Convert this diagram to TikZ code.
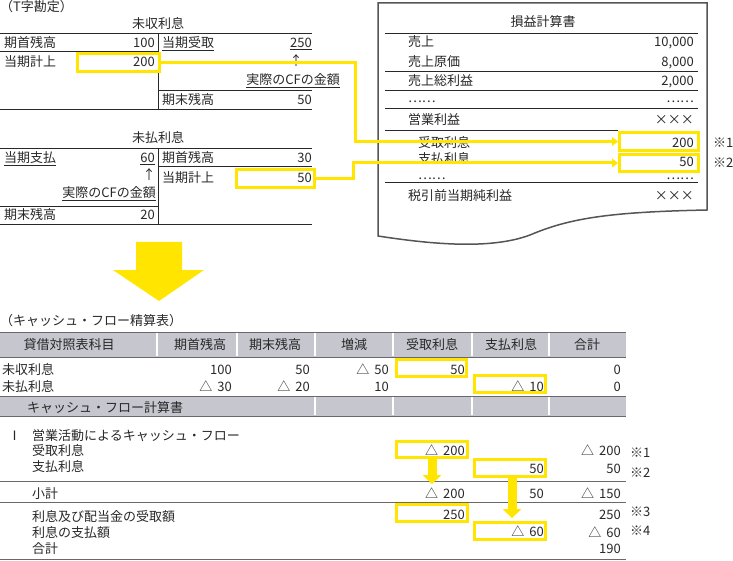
\documentclass[tikz,border=0pt]{standalone}
\usepackage{fontspec}
\setmainfont{Noto Sans CJK JP}
\usetikzlibrary{arrows.meta}
\definecolor{cfyellow}{RGB}{255,229,0}
\definecolor{bandgray}{RGB}{197,198,206}
\definecolor{rulegray}{RGB}{105,105,105}
\definecolor{plgray}{RGB}{85,85,85}
\definecolor{inkgray}{RGB}{40,40,40}
\newcommand\txtsize{\fontsize{13pt}{15pt}\selectfont}
\newcommand\xmk{\makebox[1em]{×}}
\newcommand\dl{△\hspace{5pt}}

\begin{document}
\begin{tikzpicture}[x=1pt,y=-1pt,
    every node/.style={font=\txtsize,text=inkgray,inner sep=0pt},
    lt/.style={anchor=base west},
    rt/.style={anchor=base east},
    hl/.style={draw=cfyellow,line width=3pt,minimum width=#1,minimum height=17pt},
    tline/.style={draw=inkgray,line width=0.8pt},
    rule/.style={draw=rulegray,line width=1pt},
    cutline/.style={draw=white,line width=1.2pt},
    yconn/.style={draw=cfyellow,line width=3pt,-{Triangle[length=6pt,width=9pt,line width=0pt]}},
    downarr/.style={draw=cfyellow,line width=9pt,-{Triangle[length=9pt,width=19pt,line width=0pt]}}]

  \useasboundingbox (0,0) rectangle (733,561);

  % T字勘定
  \node[lt] (tcap) at (0,12) {（T字勘定）};

  % 未収利息
  \node (ttlr) at (158,24) {未収利息};
  \draw[tline] (0,33) -- (312,33);
  \draw[tline] (158,33) -- (158,109);
  \draw[tline] (0,51) -- (158,51);
  \draw[tline] (158,90) -- (312,90);
  \draw[tline] (0,109) -- (312,109);
  \begin{scope}[every node/.append style={lt}]
    \node (r1l) at (4,48)   {期首残高};
    \node (r2l) at (4,67)   {当期計上};
    \node (r1r) at (162,48) {\underline{当期受取}};
    \node (r3r) at (162,105) {期末残高};
  \end{scope}
  \begin{scope}[every node/.append style={rt}]
    \node (r1lv) at (155,48)  {100};
    \node (r2lv) at (155,67)  {200};
    \node (r1rv) at (312,48)  {\underline{250}};
    \node (r3rv) at (312,105) {50};
    \node (rcf)  at (340,85)  {\underline{実際のCFの金額}};
  \end{scope}
  \node (rup) at (296,61) {↑};
  \node[hl=82,minimum height=18pt] (rcvbox) at (118.5,62.5) {};

  % 未払利息
  \node (ttlp) at (158,138) {未払利息};
  \draw[tline] (0,148) -- (312,148);
  \draw[tline] (158,148) -- (158,224);
  \draw[tline] (0,206) -- (158,206);
  \draw[tline] (158,166) -- (312,166);
  \draw[tline] (0,224) -- (312,224);
  \begin{scope}[every node/.append style={lt}]
    \node (p1l) at (4,163)   {\underline{当期支払}};
    \node (p3l) at (4,220)   {期末残高};
    \node (p1r) at (162,163) {期首残高};
    \node (p2r) at (162,183) {当期計上};
  \end{scope}
  \begin{scope}[every node/.append style={rt}]
    \node (p1lv) at (155,163) {\underline{60}};
    \node (p3lv) at (155,220) {20};
    \node (p1rv) at (312,163) {30};
    \node (p2rv) at (312,183) {50};
    \node (pcf)  at (156,198) {\underline{実際のCFの金額}};
  \end{scope}
  \node (pup) at (149,175) {↑};
  \node[hl=78,minimum height=18pt] (paybox) at (275.5,178.5) {};

  % 損益計算書
  \draw[draw=plgray,line width=1.5pt,fill=white] (378,3) -- (707,3) -- (707,210)
    .. controls (610,212) and (570,218) .. (530,235)
    .. controls (490,250) and (430,244) .. (378,236) -- cycle;
  \node (plttl) at (543,22) {損益計算書};
  \draw[tline] (385,33) -- (698,33);
  \draw[tline] (385,71) -- (698,71);
  \draw[tline] (385,90) -- (698,90);
  \draw[tline] (385,108) -- (698,108);
  \draw[tline] (385,130) -- (618,130);
  \draw[tline] (385,182) -- (698,182);
  \begin{scope}[every node/.append style={lt}]
    \node (pl1) at (408,47)  {売上};
    \node (pl2) at (408,67)  {売上原価};
    \node (pl3) at (408,86)  {売上総利益};
    \node (pl4) at (408,103) {……};
    \node (pl5) at (408,125) {営業利益};
    \node (pl6) at (418,148) {受取利息};
    \node (pl7) at (418,164) {支払利息};
    \node (pl8) at (418,180) {……};
    \node (pl9) at (408,201) {税引前当期純利益};
    \node (nt1) at (713,148) {※1};
    \node (nt2) at (713,168) {※2};
  \end{scope}
  \begin{scope}[every node/.append style={rt}]
    \node (pl1v) at (694,47)  {10,000};
    \node (pl2v) at (694,67)  {8,000};
    \node (pl3v) at (694,86)  {2,000};
    \node (pl4v) at (694,103) {……};
    \node (pl5v) at (694,125) {\xmk\xmk\xmk};
    \node (pl6v) at (694,147.5) {200};
    \node (pl7v) at (694,167) {50};
    \node (pl8v) at (694,180) {……};
    \node (pl9v) at (694,201) {\xmk\xmk\xmk};
  \end{scope}
  \node[hl=79,minimum height=18pt] (plrbox) at (659,141.5) {};
  \node[hl=79,minimum height=17pt] (plpbox) at (659,163) {};

  % 転記
  \draw[yconn] (rcvbox.east) -| (355,100) |- (plrbox.west);
  \draw[yconn] (paybox.east) -| (353,170) |- (plpbox.west);

  % 大きい矢印
  \fill[cfyellow] (136,242) -- (182,242) -- (182,270) -- (204,270) -- (159,301)
    -- (113,270) -- (136,270) -- cycle;

  % キャッシュ・フロー精算表
  \node[lt] (scap) at (0,325) {（キャッシュ・フロー精算表）};
  \fill[bandgray] (0,332) rectangle (626,357);
  \fill[bandgray] (0,396) rectangle (626,416);
  \draw[rule] (0,332) -- (626,332);
  \draw[rule] (0,357) -- (626,357);
  \draw[rule] (0,396) -- (626,396);
  \draw[rule] (0,416) -- (626,416);
  \draw[rule] (0,481) -- (626,481);
  \draw[rule] (0,502) -- (626,502);
  \draw[rule] (0,559) -- (626,559);
  \draw[cutline] (157,333) -- (157,356);
  \draw[cutline] (237,333) -- (237,356);
  \draw[cutline] (315,333) -- (315,356);
  \draw[cutline] (393,333) -- (393,356);
  \draw[cutline] (472,333) -- (472,356);
  \draw[cutline] (549,333) -- (549,356);
  \draw[cutline] (315,397) -- (315,415);
  \draw[cutline] (393,397) -- (393,415);
  \draw[cutline] (472,397) -- (472,415);
  \draw[cutline] (549,397) -- (549,415);

  \node (hacct) at (69,345)  {貸借対照表科目};
  \node (hopen) at (200,345) {期首残高};
  \node (hclos) at (275,345) {期末残高};
  \node (hdiff) at (354,345) {増減};
  \node (hrcv)  at (432,345) {受取利息};
  \node (hpay)  at (511,345) {支払利息};
  \node (hsum)  at (587,345) {合計};

  \begin{scope}[every node/.append style={lt}]
    \node (bsr)  at (2,374)   {未収利息};
    \node (bsp)  at (2,391)   {未払利息};
    \node (cfs)  at (27,412)  {キャッシュ・フロー計算書};
    \node (cfi)  at (8,440)   {Ⅰ};
    \node (cfo)  at (32,440)  {営業活動によるキャッシュ・フロー};
    \node (cf1)  at (32,455)  {受取利息};
    \node (cf2)  at (32,471)  {支払利息};
    \node (cf3)  at (32,498)  {小計};
    \node (cf4)  at (32,521)  {利息及び配当金の受取額};
    \node (cf5)  at (32,537)  {利息の支払額};
    \node (cf6)  at (32,553)  {合計};
    \node (nc1)  at (630,457) {※1};
    \node (nc2)  at (630,477) {※2};
    \node (nc3)  at (630,516) {※3};
    \node (nc4)  at (630,535) {※4};
  \end{scope}
  \begin{scope}[every node/.append style={rt}]
    \node (bsr1) at (232,374) {100};
    \node (bsr2) at (310,374) {50};
    \node (bsr3) at (389,374) {\dl 50};
    \node (bsr4) at (465,374) {50};
    \node (bsr5) at (621,374) {0};
    \node (bsp1) at (232,391) {\dl 30};
    \node (bsp2) at (310,391) {\dl 20};
    \node (bsp3) at (389,391) {10};
    \node (bsp4) at (544,391) {\dl 10};
    \node (bsp5) at (621,391) {0};
    \node (cf1a) at (465,455) {\dl 200};
    \node (cf1b) at (621,455) {\dl 200};
    \node (cf2a) at (544,473) {50};
    \node (cf2b) at (621,473) {50};
    \node (cf3a) at (465,498) {\dl 200};
    \node (cf3b) at (544,498) {50};
    \node (cf3c) at (621,498) {\dl 150};
    \node (cf4a) at (465,519) {250};
    \node (cf4b) at (621,519) {250};
    \node (cf5a) at (544,536) {\dl 60};
    \node (cf5b) at (621,537) {\dl 60};
    \node (cf6b) at (621,553) {190};
  \end{scope}

  \node[hl=70] (tbrbox) at (431.5,368) {};
  \node[hl=71] (tbpbox) at (510,384) {};
  \node[hl=71,minimum height=16pt] (cfrbox) at (432,449.5) {};
  \node[hl=71] (cfpbox) at (510,468) {};
  \node[hl=71] (cfrbox2) at (432,513) {};
  \node[hl=71] (cfpbox2) at (510,531) {};

  \coordinate (subr) at (432,484);
  \draw[downarr] (cfrbox.south) -- (subr);
  \draw[downarr,shorten >=3pt] ([xshift=2pt]cfpbox.south) -- ([xshift=2pt]cfpbox2.north);

\end{tikzpicture}
\end{document}
